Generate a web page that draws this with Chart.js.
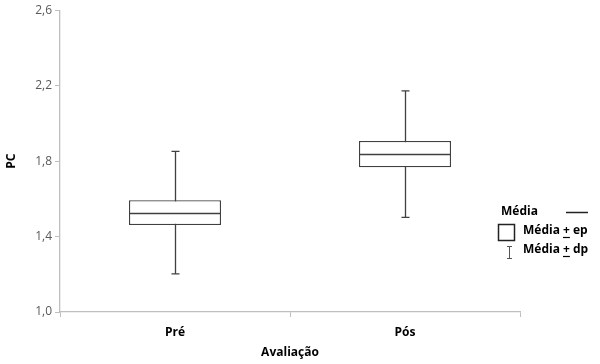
<!DOCTYPE html>
<html>
<head>
<meta charset="utf-8">
<script src="https://cdn.jsdelivr.net/npm/chart.js@4"></script>
<style>
  html, body { margin: 0; padding: 0; background: #fff; }
  #wrap { width: 600px; height: 364px; }
</style>
</head>
<body>
<div id="wrap"><canvas id="chart" width="600" height="364"></canvas></div>
<script>
// data
var categories = ['Pré', 'Pós'];
var means = [1.527, 1.837];
var ep = [0.066, 0.070];   // média ± ep (box)
var dp = [0.325, 0.335];   // média ± dp (whiskers)
var yTicks = [1.0, 1.4, 1.8, 2.2, 2.6];

var FONT = "'Open Sans', 'Liberation Sans', sans-serif";
var INK = '#404040';

var boxes = means.map(function (m, i) { return [m - ep[i], m + ep[i]]; });

// whiskers under the box, mean line over it
var meanAndWhiskers = {
    id: 'meanAndWhiskers',
    beforeDatasetsDraw: function (chart) {
        var ctx = chart.ctx, y = chart.scales.y;
        var meta = chart.getDatasetMeta(0);
        ctx.save();
        ctx.strokeStyle = INK;
        ctx.lineWidth = 1.3;
        meta.data.forEach(function (bar, i) {
            var x = Math.round(bar.x) + 0.5;
            var top = y.getPixelForValue(means[i] + dp[i]);
            var bot = y.getPixelForValue(means[i] - dp[i]);
            ctx.beginPath();
            ctx.moveTo(x, top); ctx.lineTo(x, bot);
            ctx.moveTo(x - 4, top); ctx.lineTo(x + 4, top);
            ctx.moveTo(x - 4, bot); ctx.lineTo(x + 4, bot);
            ctx.stroke();
        });
        ctx.restore();
    },
    afterDatasetsDraw: function (chart) {
        var ctx = chart.ctx, y = chart.scales.y;
        var meta = chart.getDatasetMeta(0);
        ctx.save();
        ctx.strokeStyle = INK;
        ctx.lineWidth = 1.3;
        meta.data.forEach(function (bar, i) {
            var py = Math.round(y.getPixelForValue(means[i])) + 0.5;
            ctx.beginPath();
            ctx.moveTo(bar.x - bar.width / 2, py);
            ctx.lineTo(bar.x + bar.width / 2, py);
            ctx.stroke();
        });

        // legend
        ctx.fillStyle = '#000';
        ctx.font = 'bold 12px ' + FONT;
        ctx.textBaseline = 'middle';
        ctx.textAlign = 'left';
        ctx.fillText('Média', 501, 212);
        ctx.beginPath();
        ctx.moveTo(566, 212.5); ctx.lineTo(588, 212.5);
        ctx.lineWidth = 1.5;
        ctx.strokeStyle = '#222';
        ctx.stroke();

        ctx.lineWidth = 1.5;
        ctx.strokeRect(498.5, 224.5, 16, 16);
        drawPm(ctx, 'Média', ' ep', 523, 231);

        ctx.lineWidth = 1;
        ctx.strokeStyle = '#555';
        ctx.beginPath();
        ctx.moveTo(509.5, 246); ctx.lineTo(509.5, 259);
        ctx.moveTo(507, 246.5); ctx.lineTo(512, 246.5);
        ctx.moveTo(507, 258.5); ctx.lineTo(512, 258.5);
        ctx.stroke();
        drawPm(ctx, 'Média', ' dp', 523, 250);
        ctx.restore();
    }
};

// "Média ± ep" with the underlined plus sign like the original
function drawPm(ctx, a, b, x, y) {
    ctx.fillText(a, x, y);
    var w = ctx.measureText(a + ' ').width;
    ctx.fillText('+', x + w, y);
    var pw = ctx.measureText('+').width;
    ctx.beginPath();
    ctx.moveTo(x + w, y + 6.5); ctx.lineTo(x + w + pw, y + 6.5);
    ctx.lineWidth = 1.2;
    ctx.strokeStyle = '#000';
    ctx.stroke();
    ctx.fillText(b, x + w + pw, y);
}

new Chart(document.getElementById('chart').getContext('2d'), {
    type: 'bar',
    data: {
        labels: categories,
        datasets: [{
            data: boxes,
            backgroundColor: '#ffffff',
            borderColor: INK,
            borderWidth: 1.3,
            borderSkipped: false,
            categoryPercentage: 1,
            barPercentage: 0.4
        }]
    },
    options: {
        responsive: false,
        animation: false,
        events: [],
        layout: { padding: { left: 0, right: 80, top: 9, bottom: 0 } },
        plugins: { legend: { display: false }, tooltip: { enabled: false } },
        scales: {
            x: {
                offset: true,
                grid: { offset: true, drawOnChartArea: false, tickLength: 5, color: '#bfbfbf' },
                border: { color: '#bfbfbf', width: 1.3 },
                ticks: { color: '#000', font: { family: FONT, size: 12, weight: 'bold' }, padding: 8 },
                title: { display: true, text: 'Avaliação', color: '#000', font: { family: FONT, size: 12, weight: 'bold' }, padding: { top: 2 } },
                afterFit: function (s) { s.height = 52; }
            },
            y: {
                min: 1.0,
                max: 2.6,
                afterBuildTicks: function (s) { s.ticks = yTicks.map(function (v) { return { value: v }; }); },
                grid: { drawOnChartArea: false, tickLength: 5, color: '#bfbfbf' },
                border: { color: '#bfbfbf', width: 1.3 },
                ticks: {
                    color: '#595959',
                    font: { family: FONT, size: 12 },
                    padding: 3,
                    callback: function (v) { return v.toFixed(1).replace('.', ','); }
                },
                title: { display: true, text: 'PC', color: '#000', font: { family: FONT, size: 12, weight: 'bold' }, padding: { bottom: 8 } },
                afterFit: function (s) { s.width = 60; }
            }
        }
    },
    plugins: [meanAndWhiskers]
});
</script>
</body>
</html>
